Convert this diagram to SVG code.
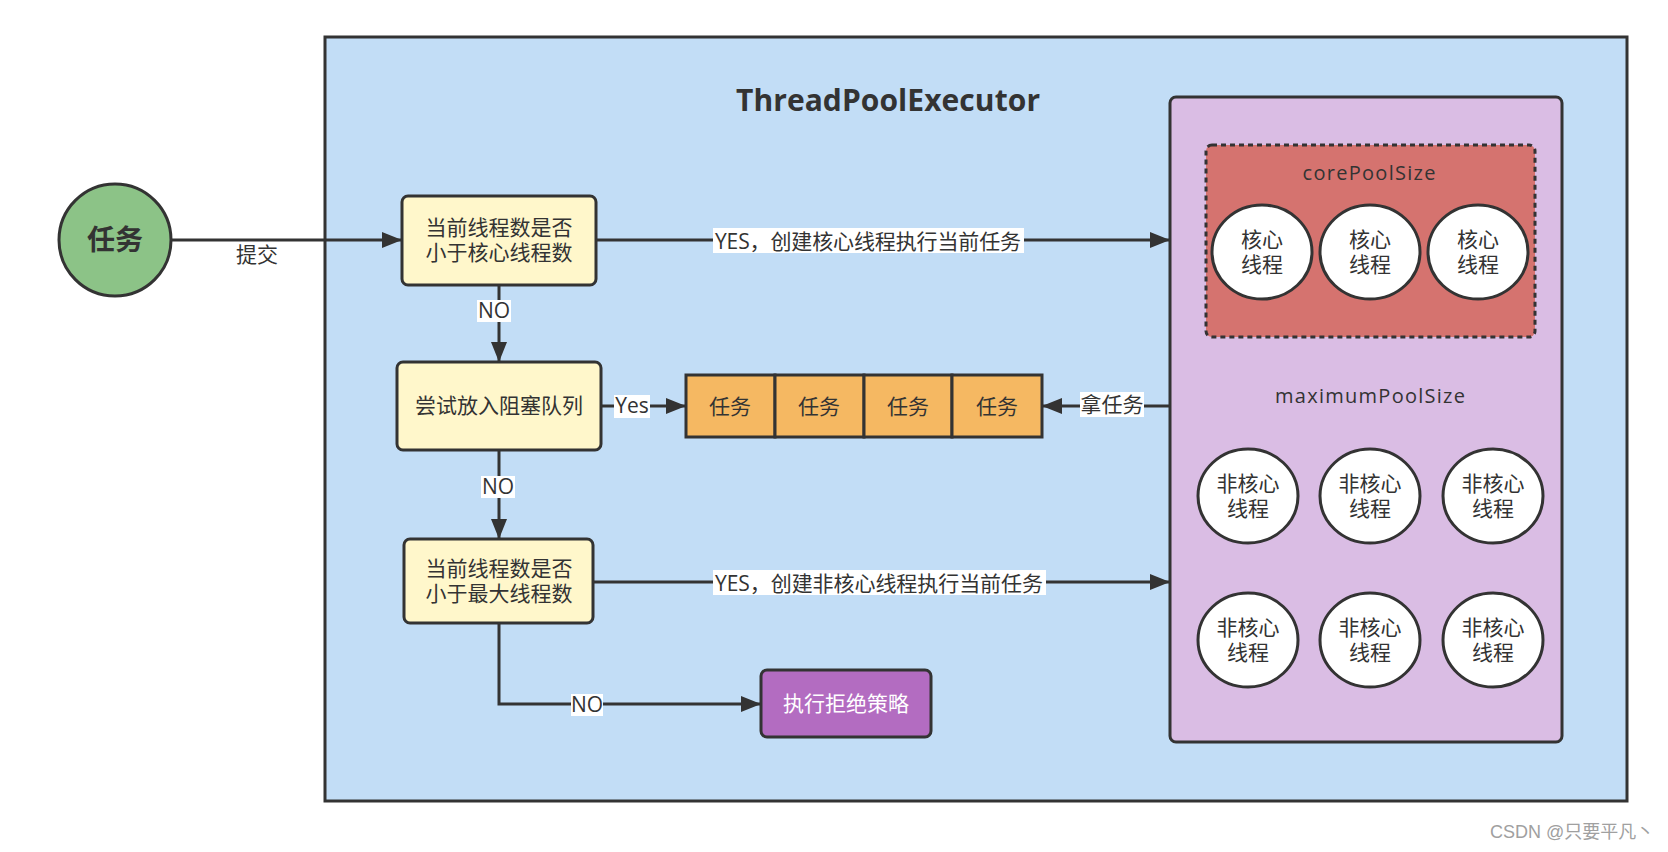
<svg xmlns="http://www.w3.org/2000/svg" width="1668" height="852" viewBox="0 0 1668 852">
<defs>
<marker id="arr" viewBox="0 0 20 16" refX="20" refY="8" markerWidth="20" markerHeight="16" markerUnits="userSpaceOnUse" orient="auto">
<path d="M0,0 L20,8 L0,16 z" fill="#333333"/>
</marker>
<style>
.edge{fill:none;stroke:#333333;stroke-width:3;}
.box{stroke:#333333;stroke-width:3;}
.cjk{font-family:"Noto Sans CJK SC","Noto Sans",sans-serif;font-size:21px;fill:#333333;text-anchor:middle;}
.lat{font-family:"Open Sans","Noto Sans CJK SC",sans-serif;font-size:21px;fill:#333333;text-anchor:middle;}
.pool{font-family:"Open Sans",sans-serif;font-size:20px;fill:#333333;text-anchor:middle;}
.lbl{fill:#ffffff;}
.thr{fill:#ffffff;stroke:#333333;stroke-width:3;}
</style>
</defs>
<rect width="1668" height="852" fill="#ffffff"/>

<g id="executor">
<rect x="325" y="37" width="1302" height="764" fill="#c2ddf6" class="box"/>
<text x="888" y="111" font-family="'Open Sans',sans-serif" font-weight="bold" font-size="30" fill="#333333" text-anchor="middle" textLength="304" lengthAdjust="spacing">ThreadPoolExecutor</text>
</g>

<g id="pool">
<rect x="1170" y="97" width="392" height="645" rx="6" fill="#dabde4" class="box"/>
<text x="1370" y="403" class="pool" textLength="190" lengthAdjust="spacing">maximumPoolSize</text>
</g>

<g id="core">
<rect x="1206" y="145" width="329" height="192" rx="6" fill="#d5736f" stroke="#333333" stroke-width="3" stroke-dasharray="5,4"/>
<text x="1369" y="180" class="pool" textLength="133" lengthAdjust="spacing">corePoolSize</text>
</g>

<g id="core1"><ellipse cx="1262" cy="252" rx="50" ry="47" class="thr"/><text class="cjk" x="1262" y="247">核心</text><text class="cjk" x="1262" y="272">线程</text></g>
<g id="core2"><ellipse cx="1370" cy="252" rx="50" ry="47" class="thr"/><text class="cjk" x="1370" y="247">核心</text><text class="cjk" x="1370" y="272">线程</text></g>
<g id="core3"><ellipse cx="1478" cy="252" rx="50" ry="47" class="thr"/><text class="cjk" x="1478" y="247">核心</text><text class="cjk" x="1478" y="272">线程</text></g>

<g id="nc1"><ellipse cx="1248" cy="496" rx="50" ry="47" class="thr"/><text class="cjk" x="1248" y="491">非核心</text><text class="cjk" x="1248" y="516">线程</text></g>
<g id="nc2"><ellipse cx="1370" cy="496" rx="50" ry="47" class="thr"/><text class="cjk" x="1370" y="491">非核心</text><text class="cjk" x="1370" y="516">线程</text></g>
<g id="nc3"><ellipse cx="1493" cy="496" rx="50" ry="47" class="thr"/><text class="cjk" x="1493" y="491">非核心</text><text class="cjk" x="1493" y="516">线程</text></g>
<g id="nc4"><ellipse cx="1248" cy="640" rx="50" ry="47" class="thr"/><text class="cjk" x="1248" y="635">非核心</text><text class="cjk" x="1248" y="660">线程</text></g>
<g id="nc5"><ellipse cx="1370" cy="640" rx="50" ry="47" class="thr"/><text class="cjk" x="1370" y="635">非核心</text><text class="cjk" x="1370" y="660">线程</text></g>
<g id="nc6"><ellipse cx="1493" cy="640" rx="50" ry="47" class="thr"/><text class="cjk" x="1493" y="635">非核心</text><text class="cjk" x="1493" y="660">线程</text></g>

<g id="task">
<circle cx="115" cy="240" r="56" fill="#8cc387" class="box"/>
<text x="115" y="250" class="cjk" style="font-size:28px;font-weight:bold">任务</text>
</g>

<g id="check-core">
<rect x="402" y="196" width="194" height="89" rx="6" fill="#fff7cb" class="box"/>
<text class="cjk" x="499" y="235">当前线程数是否</text>
<text class="cjk" x="499" y="260">小于核心线程数</text>
</g>

<g id="try-queue">
<rect x="397" y="362" width="204" height="88" rx="6" fill="#fff7cb" class="box"/>
<text class="cjk" x="499" y="413">尝试放入阻塞队列</text>
</g>

<g id="check-max">
<rect x="404" y="539" width="189" height="84" rx="6" fill="#fff7cb" class="box"/>
<text class="cjk" x="499" y="576">当前线程数是否</text>
<text class="cjk" x="499" y="601">小于最大线程数</text>
</g>

<g id="reject">
<rect x="761" y="670" width="170" height="67" rx="6" fill="#b36cc1" class="box"/>
<text class="cjk" x="846" y="711" style="fill:#ffffff">执行拒绝策略</text>
</g>

<g id="queue">
<rect x="686" y="375" width="89" height="62" fill="#f5b862" class="box"/>
<rect x="775" y="375" width="89" height="62" fill="#f5b862" class="box"/>
<rect x="864" y="375" width="88" height="62" fill="#f5b862" class="box"/>
<rect x="952" y="375" width="90" height="62" fill="#f5b862" class="box"/>
<text class="cjk" x="730" y="414">任务</text>
<text class="cjk" x="819" y="414">任务</text>
<text class="cjk" x="908" y="414">任务</text>
<text class="cjk" x="997" y="414">任务</text>
</g>

<g id="connectors">
<path class="edge" d="M171,240 L402,240" marker-end="url(#arr)"/>
<path class="edge" d="M596,240 L1170,240" marker-end="url(#arr)"/>
<path class="edge" d="M499,285 L499,362" marker-end="url(#arr)"/>
<path class="edge" d="M601,406 L686,406" marker-end="url(#arr)"/>
<path class="edge" d="M1170,406 L1042,406" marker-end="url(#arr)"/>
<path class="edge" d="M499,450 L499,539" marker-end="url(#arr)"/>
<path class="edge" d="M593,582 L1170,582" marker-end="url(#arr)"/>
<path class="edge" d="M499,623 L499,704 L761,704" marker-end="url(#arr)"/>

<rect class="lbl" x="234" y="242" width="47" height="25"/>
<text class="cjk" x="257" y="262">提交</text>
<rect class="lbl" x="713" y="228" width="311" height="25"/>
<text class="lat" x="868" y="249" textLength="306" lengthAdjust="spacing">YES，创建核心线程执行当前任务</text>
<rect class="lbl" x="477" y="300" width="34" height="22"/>
<text class="lat" x="494" y="318">NO</text>
<rect class="lbl" x="614" y="395" width="36" height="23"/>
<text class="lat" x="632" y="413">Yes</text>
<rect class="lbl" x="1080" y="392" width="64" height="25"/>
<text class="cjk" x="1112" y="412">拿任务</text>
<rect class="lbl" x="481" y="476" width="34" height="22"/>
<text class="lat" x="498" y="494">NO</text>
<rect class="lbl" x="713" y="570" width="333" height="25"/>
<text class="lat" x="879" y="591" textLength="328" lengthAdjust="spacing">YES，创建非核心线程执行当前任务</text>
<rect class="lbl" x="571" y="694" width="32" height="22"/>
<text class="lat" x="587" y="712">NO</text>
</g>

<text x="1490" y="838" font-family="'Liberation Sans','Noto Sans CJK SC',sans-serif" font-size="18" fill="#a0a0a0">CSDN @只要平凡丶</text>
</svg>
